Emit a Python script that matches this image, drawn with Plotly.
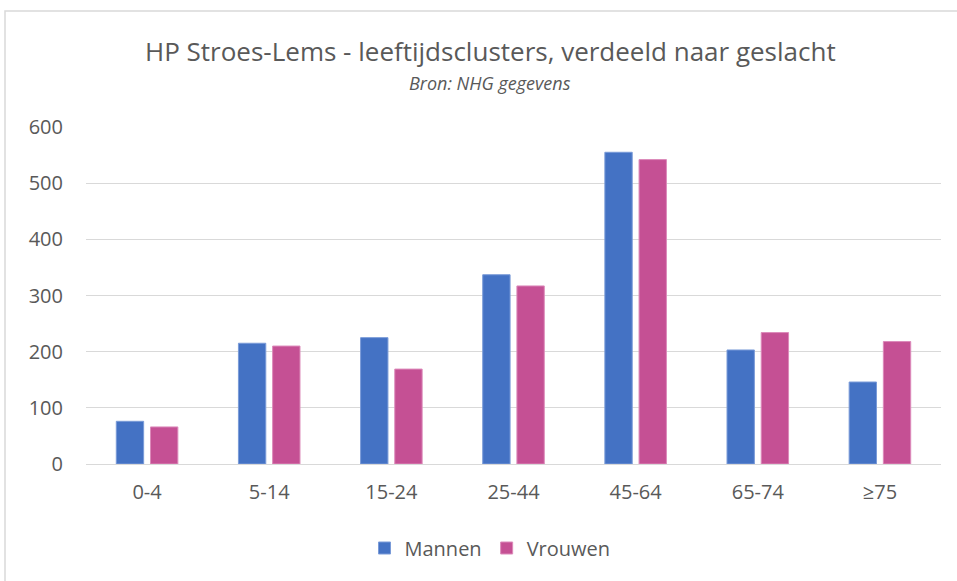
import plotly.graph_objects as go

categories = ["0-4", "5-14", "15-24", "25-44", "45-64", "65-74", "≥75"]
mannen = [76, 215, 225, 337, 555, 203, 146]
vrouwen = [66, 210, 169, 317, 542, 234, 218]
y_ticks = [0, 100, 200, 300, 400, 500, 600]

title = "HP Stroes-Lems - leeftijdsclusters, verdeeld naar geslacht"
subtitle = "Bron: NHG gegevens"

FONT = "Open Sans"
TXT = "#595959"

fig = go.Figure()
fig.add_trace(go.Bar(x=categories, y=mannen, name="Mannen",
                     marker=dict(color="#4472C4", line=dict(color="#7A9BD8", width=1))))
fig.add_trace(go.Bar(x=categories, y=vrouwen, name="Vrouwen",
                     marker=dict(color="#C55094", line=dict(color="#DC8ABA", width=1))))

L, R, T, B = 86, 941, 127, 464
W, H = 957, 581
pw, ph = R - L, B - T

def px(x):
    return (x - L) / pw

def py(y):
    return (B - y) / ph

fig.update_layout(
    width=W, height=H,
    margin=dict(l=L, r=W - R, t=T, b=H - B, pad=0),
    paper_bgcolor="white", plot_bgcolor="white",
    barmode="group", bargap=0.44, bargroupgap=0.2,
    font=dict(family=FONT, color=TXT),
    showlegend=True,
    legend=dict(orientation="h", x=px(490), xanchor="center", y=py(548), yanchor="middle",
                font=dict(size=20, color=TXT), itemwidth=30, traceorder="normal"),
    xaxis=dict(showgrid=False, showline=False, ticks="", tickfont=dict(size=20, color=TXT),
               ticklabelstandoff=14),
    yaxis=dict(range=[0, 600], tickvals=y_ticks, showgrid=True, gridcolor="#D9D9D9",
               gridwidth=1.3, zeroline=True, zerolinecolor="#D9D9D9", zerolinewidth=1.3,
               showline=False, ticks="", tickfont=dict(size=20, color=TXT),
               ticklabelstandoff=22),
    annotations=[
        dict(text=title, x=px(490), y=py(51), xref="paper", yref="paper",
             showarrow=False, xanchor="center", yanchor="middle",
             font=dict(size=26, color=TXT, family=FONT)),
        dict(text="<i>" + subtitle + "</i>", x=px(490), y=py(83), xref="paper", yref="paper",
             showarrow=False, xanchor="center", yanchor="middle",
             font=dict(size=18, color=TXT, family=FONT)),
    ],
    shapes=[
        dict(type="rect", xref="paper", yref="paper",
             x0=px(5), x1=px(990), y0=py(11), y1=py(620),
             line=dict(color="#D9D9D9", width=1.5), fillcolor="rgba(0,0,0,0)", layer="below"),
    ],
)

fig.write_html("out.html", config={"displayModeBar": False},
               post_script="document.body.style.margin='0';document.body.style.overflow='hidden';")
